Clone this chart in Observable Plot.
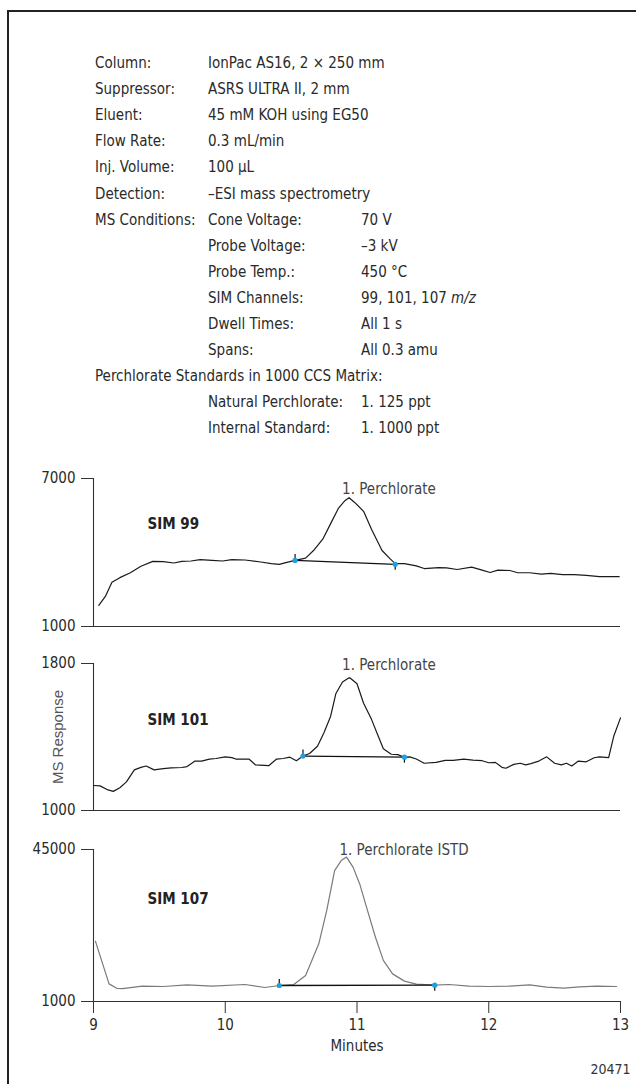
<!DOCTYPE html>
<html><head><meta charset="utf-8">
<script src="https://cdn.jsdelivr.net/npm/d3@7"></script>
<script src="https://cdn.jsdelivr.net/npm/@observablehq/plot@0.6"></script>
<style>
body{margin:0;background:#fff;}
#page{position:relative;width:636px;height:1084px;overflow:hidden;font-family:"Liberation Sans Narrow","DejaVu Sans Condensed","Roboto Condensed",sans-serif;color:#2a2a2a;}
#frame{position:absolute;left:7px;top:10px;width:700px;height:1200px;border-left:2.5px solid #222;border-top:2.5px solid #222;}
.hl{position:absolute;font-size:15px;line-height:18px;white-space:nowrap;transform:translateY(-50%);}
.panel{position:absolute;left:0;}
</style></head><body><div id="page"><div id="frame"></div></div>
<script>
// ---------- header text ----------
const setupLabels = ["Column:", "Suppressor:", "Eluent:", "Flow Rate:", "Inj. Volume:", "Detection:", "MS Conditions:"];
const setupValues = ["IonPac AS16, 2 × 250 mm", "ASRS ULTRA II, 2 mm", "45 mM KOH using EG50", "0.3 mL/min", "100 µL", "–ESI mass spectrometry"];
const msLabels = ["Cone Voltage:", "Probe Voltage:", "Probe Temp.:", "SIM Channels:", "Dwell Times:", "Spans:"];
const msValues = ["70 V", "–3 kV", "450 °C", "99, 101, 107 m/z", "All 1 s", "All 0.3 amu"];
const standardsTitle = "Perchlorate Standards in 1000 CCS Matrix:";
const standardLabels = ["Natural Perchlorate:", "Internal Standard:"];
const standardValues = ["1. 125 ppt", "1. 1000 ppt"];

// ---------- chromatogram data ----------
const xTicks = [9, 10, 11, 12, 13];

const sim99Time = [9.04, 9.09, 9.14, 9.2, 9.28, 9.36, 9.45, 9.53, 9.61, 9.67, 9.74, 9.81, 9.9, 9.98, 10.05, 10.15, 10.27, 10.35, 10.41, 10.46, 10.53, 10.61, 10.67, 10.74, 10.8, 10.86, 10.91, 10.94, 10.98, 11.05, 11.11, 11.19, 11.25, 11.29, 11.36, 11.45, 11.51, 11.62, 11.68, 11.76, 11.87, 11.95, 12.01, 12.07, 12.16, 12.22, 12.31, 12.4, 12.47, 12.56, 12.65, 12.74, 12.84, 12.93, 12.99];
const sim99Resp = [1860, 2220, 2790, 2980, 3180, 3440, 3640, 3630, 3575, 3640, 3655, 3710, 3680, 3655, 3710, 3695, 3615, 3550, 3520, 3590, 3680, 3770, 4080, 4540, 5170, 5800, 6110, 6220, 6040, 5670, 4940, 4080, 3750, 3550, 3550, 3455, 3350, 3390, 3375, 3310, 3405, 3285, 3190, 3285, 3270, 3180, 3180, 3125, 3150, 3100, 3100, 3070, 3020, 3020, 3020];
const sim99BaseTime = [10.53, 11.29];
const sim99BaseResp = [3680, 3520];

const sim101Time = [9.0, 9.05, 9.11, 9.15, 9.2, 9.25, 9.31, 9.36, 9.4, 9.46, 9.53, 9.59, 9.67, 9.71, 9.77, 9.82, 9.88, 9.93, 10.0, 10.05, 10.08, 10.18, 10.23, 10.33, 10.39, 10.44, 10.49, 10.54, 10.59, 10.64, 10.7, 10.75, 10.8, 10.84, 10.89, 10.94, 10.95, 11.0, 11.05, 11.11, 11.16, 11.2, 11.26, 11.31, 11.36, 11.4, 11.45, 11.51, 11.6, 11.67, 11.73, 11.81, 11.88, 11.95, 12.0, 12.05, 12.1, 12.13, 12.19, 12.24, 12.28, 12.32, 12.38, 12.44, 12.5, 12.55, 12.59, 12.63, 12.68, 12.74, 12.8, 12.84, 12.91, 12.95, 13.0];
const sim101Resp = [1136, 1134, 1112, 1104, 1124, 1156, 1221, 1235, 1242, 1221, 1228, 1232, 1234, 1239, 1269, 1269, 1280, 1283, 1292, 1288, 1280, 1280, 1248, 1244, 1280, 1283, 1290, 1271, 1296, 1310, 1350, 1425, 1513, 1637, 1699, 1722, 1720, 1690, 1584, 1496, 1407, 1336, 1306, 1304, 1290, 1292, 1280, 1257, 1262, 1273, 1273, 1280, 1274, 1271, 1260, 1262, 1235, 1230, 1251, 1257, 1248, 1255, 1269, 1292, 1257, 1248, 1257, 1242, 1269, 1265, 1287, 1292, 1288, 1407, 1504];
const sim101BaseTime = [10.59, 11.36];
const sim101BaseResp = [1296, 1290];

const sim107Time = [9.015, 9.118, 9.18, 9.22, 9.37, 9.53, 9.71, 9.9, 10.15, 10.3, 10.41, 10.52, 10.61, 10.71, 10.77, 10.83, 10.88, 10.92, 10.97, 11.02, 11.08, 11.14, 11.2, 11.27, 11.36, 11.45, 11.59, 11.7, 11.85, 12.0, 12.16, 12.31, 12.44, 12.57, 12.69, 12.82, 12.97];
const sim107Resp = [18400, 6100, 4760, 4700, 5440, 5340, 5820, 5440, 5920, 5050, 5630, 5920, 8530, 17700, 27300, 38900, 41800, 42800, 39900, 35100, 27300, 19600, 12900, 9000, 6900, 6020, 5730, 5920, 5440, 5340, 5440, 5820, 5150, 4860, 5250, 5440, 5340];
const sim107BaseTime = [10.41, 11.59];
const sim107BaseResp = [5630, 5730];

const panelNames = ["SIM 99", "SIM 101", "SIM 107"];
const peakNames = ["1. Perchlorate", "1. Perchlorate", "1. Perchlorate ISTD"];
const yTicks99 = [1000, 7000];
const yTicks101 = [1000, 1800];
const yTicks107 = [1000, 45000];
const yAxisTitle = "MS Response";
const xAxisTitle = "Minutes";
const figureNumber = "20471";

// ---------- header ----------
const page = document.getElementById("page");
const rowY = i => 63 + 26.1 * i;
function put(text, x, i) {
  const el = document.createElement("div");
  el.className = "hl";
  el.style.left = x + "px";
  el.style.top = rowY(i) + "px";
  if (text.endsWith(" m/z")) {
    el.textContent = text.slice(0, -3);
    const it = document.createElement("i");
    it.textContent = "m/z";
    el.appendChild(it);
  } else el.textContent = text;
  page.appendChild(el);
}
const C1 = 95, C2 = 208, C3 = 361;
setupLabels.forEach((t, i) => put(t, C1, i));
setupValues.forEach((t, i) => put(t, C2, i));
msLabels.forEach((t, i) => put(t, C2, 6 + i));
msValues.forEach((t, i) => put(t, C3, 6 + i));
put(standardsTitle, C1, 12);
standardLabels.forEach((t, i) => put(t, C2, 13 + i));
standardValues.forEach((t, i) => put(t, C3, 13 + i));

// ---------- panels ----------
const FONT = '"Liberation Sans Narrow","DejaVu Sans Condensed","Roboto Condensed",sans-serif';
const fmt = d => String(d);
function panel(o) {
  const data = o.time.map((t, i) => ({t, v: o.resp[i]}));
  const base = o.baseTime.map((t, i) => ({t, v: o.baseResp[i]}));
  const peak = d3.greatest(data, d => d.v);
  const marks = [
    Plot.ruleX([xTicks[0]], {stroke: "#333", strokeWidth: 1.1}),
    Plot.ruleY([o.yTicks[0]], {stroke: "#333", strokeWidth: 1.1}),
    Plot.axisY(o.yTicks, {tickSize: 12, tickPadding: 6, tickFormat: fmt, label: null, stroke: "#333", fill: "#2a2a2a"}),
    Plot.line(data, {x: "t", y: "v", stroke: o.stroke, strokeWidth: 1.2}),
    Plot.link([base], {x1: d => d[0].t, y1: d => d[0].v, x2: d => d[1].t, y2: d => d[1].v, stroke: "#111", strokeWidth: 1.3}),
    Plot.ruleX([base[0]], {x: "t", y1: "v", y2: "v", insetTop: -6, stroke: "#111", strokeWidth: 1.2}),
    Plot.ruleX([base[1]], {x: "t", y1: "v", y2: "v", insetBottom: -6, stroke: "#111", strokeWidth: 1.2}),
    Plot.dot(base, {x: "t", y: "v", r: 2.6, fill: "#1e9fe0"}),
    Plot.text([peak], {x: "t", y: "v", text: () => o.peakName, textAnchor: "start", lineAnchor: "bottom", dx: -7, dy: o.peakDy, fill: "#444", fontSize: 15}),
    Plot.text([o.name], {text: d => d, frameAnchor: "top-left", dx: 54, dy: o.nameDy, textAnchor: "start", lineAnchor: "middle", fontWeight: "bold", fontSize: 15, fill: "#222"})
  ];
  if (o.yTitle) marks.push(Plot.text([o.yTitle], {text: d => d, frameAnchor: "left", dx: -35, rotate: -90, textAnchor: "middle", lineAnchor: "middle", fontFamily: '"Liberation Sans",Arial,sans-serif', fontSize: 15, fill: "#555"}));
  if (o.xAxis) {
    marks.push(Plot.axisX(xTicks, {tickSize: 12, tickPadding: 6, tickFormat: fmt, label: null, stroke: "#333", fill: "#2a2a2a"}));
    marks.push(Plot.text([xAxisTitle], {text: d => d, frameAnchor: "bottom", dy: 45, lineAnchor: "middle", fill: "#2a2a2a", fontSize: 15}));
    marks.push(Plot.text([figureNumber], {text: d => d, frameAnchor: "bottom-right", dx: 10, dy: 68, textAnchor: "end", lineAnchor: "middle", fill: "#333", fontSize: 14}));
  }
  const opts = {
    width: 636, height: o.height,
    marginLeft: 93, marginRight: 16, marginTop: 18, marginBottom: o.mb,
    x: {domain: [xTicks[0], xTicks[xTicks.length - 1]]},
    y: {domain: [o.yTicks[0], o.yTicks[o.yTicks.length - 1]]},
    style: {fontFamily: FONT, fontSize: "15px", color: "#2a2a2a", background: "transparent", overflow: "visible"},
    marks
  };
  if (!o.xAxis) opts.x.axis = null;
  const svg = Plot.plot(opts);
  const wrap = document.createElement("div");
  wrap.className = "panel";
  wrap.style.top = o.top + "px";
  wrap.appendChild(svg);
  page.appendChild(wrap);
}

panel({time: sim99Time, resp: sim99Resp, baseTime: sim99BaseTime, baseResp: sim99BaseResp, yTicks: yTicks99,
  stroke: "#1a1a1a", name: panelNames[0], peakName: peakNames[0], nameDy: 46, peakDy: -4, top: 460, height: 176, mb: 10});
panel({time: sim101Time, resp: sim101Resp, baseTime: sim101BaseTime, baseResp: sim101BaseResp, yTicks: yTicks101,
  stroke: "#1a1a1a", name: panelNames[1], peakName: peakNames[1], nameDy: 57, peakDy: -8, top: 645, height: 175, mb: 10, yTitle: yAxisTitle});
panel({time: sim107Time, resp: sim107Resp, baseTime: sim107BaseTime, baseResp: sim107BaseResp, yTicks: yTicks107,
  stroke: "#7a7a7a", name: panelNames[2], peakName: peakNames[2], nameDy: 50, peakDy: -2, top: 831, height: 250, mb: 80, xAxis: true});
</script></body></html>
